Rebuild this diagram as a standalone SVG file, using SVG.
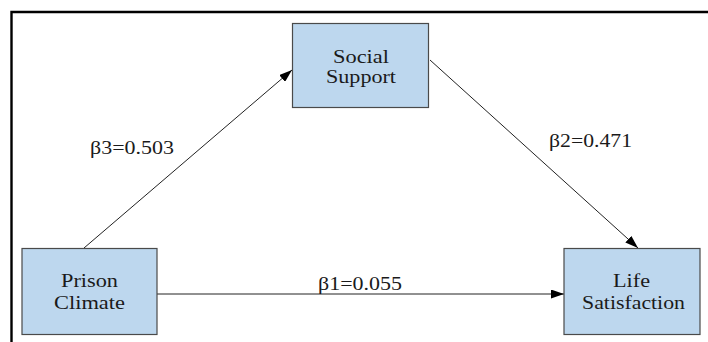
<svg xmlns="http://www.w3.org/2000/svg" width="708" height="342" viewBox="0 0 708 342">
<style>
.node{fill:#bdd7ee;stroke:#4a4a4a;stroke-width:1.2}
text{font-family:'Liberation Serif','DejaVu Serif',serif;font-size:18px;fill:#1a1a1a}
.edge{stroke:#222;stroke-width:1;fill:none;marker-end:url(#arr)}
.frame{stroke:#000;stroke-width:2.4;fill:none}
</style>
<defs>
<marker id="arr" markerWidth="13" markerHeight="9" refX="13" refY="4.5" orient="auto" markerUnits="userSpaceOnUse">
<path d="M0,0 L13,4.5 L0,9 Z" fill="#000"/>
</marker>
</defs>
<rect width="708" height="342" fill="#fff"/>
<path class="frame" d="M11.5,342 L11.5,12 L708,12"/>
<g id="connectors">
<line class="edge" x1="84" y1="248" x2="292" y2="70"/>
<line class="edge" x1="430" y1="60" x2="638" y2="248"/>
<line class="edge" x1="157" y1="294" x2="564" y2="294"/>
<text font-family="Liberation Serif, serif" x="90" y="154" textLength="84" lengthAdjust="spacingAndGlyphs">β3=0.503</text>
<text font-family="Liberation Serif, serif" x="549" y="147" textLength="83" lengthAdjust="spacingAndGlyphs">β2=0.471</text>
<text font-family="Liberation Serif, serif" x="318" y="290" textLength="84" lengthAdjust="spacingAndGlyphs">β1=0.055</text>
</g>
<g id="social-support">
<rect class="node" x="292.5" y="23.5" width="136" height="84"/>
<text font-family="Liberation Serif, serif" x="333" y="63" textLength="56" lengthAdjust="spacingAndGlyphs">Social</text>
<text font-family="Liberation Serif, serif" x="326" y="83" textLength="70" lengthAdjust="spacingAndGlyphs">Support</text>
</g>
<g id="prison-climate">
<rect class="node" x="22" y="248.5" width="135" height="86"/>
<text font-family="Liberation Serif, serif" x="61" y="287" textLength="57" lengthAdjust="spacingAndGlyphs">Prison</text>
<text font-family="Liberation Serif, serif" x="54" y="309" textLength="71" lengthAdjust="spacingAndGlyphs">Climate</text>
</g>
<g id="life-satisfaction">
<rect class="node" x="564" y="248.5" width="136" height="86"/>
<text font-family="Liberation Serif, serif" x="613" y="287" textLength="37" lengthAdjust="spacingAndGlyphs">Life</text>
<text font-family="Liberation Serif, serif" x="582" y="309" textLength="103" lengthAdjust="spacingAndGlyphs">Satisfaction</text>
</g>
</svg>
